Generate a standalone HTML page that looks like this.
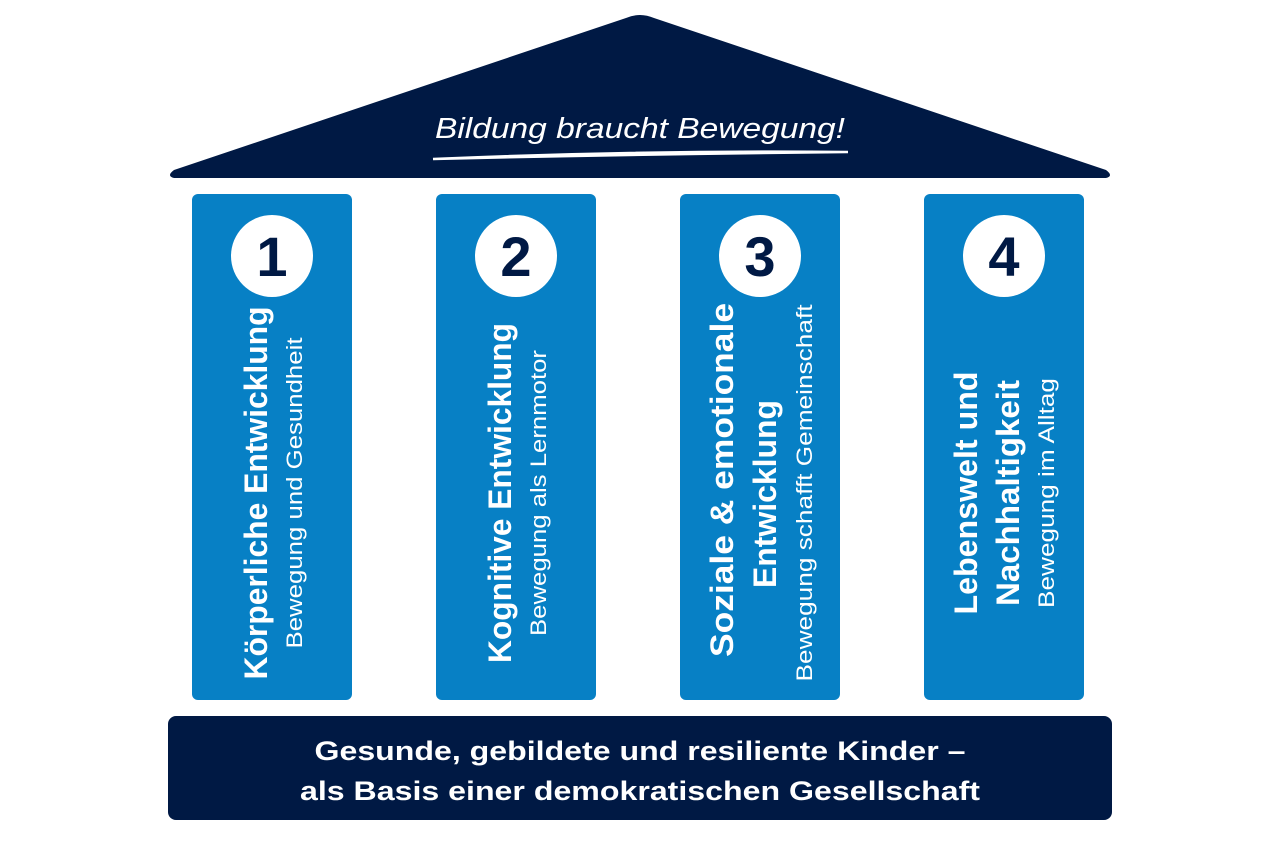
<!DOCTYPE html>
<html><head><meta charset="utf-8"><style>
html,body{margin:0;padding:0;background:#fff;}
svg{display:block;}
text{font-family:"Liberation Sans",sans-serif;}
</style></head><body>
<svg width="1280" height="853" viewBox="0 0 1280 853" xmlns="http://www.w3.org/2000/svg">
<!-- roof -->
<path d="M626,18 Q640,12 654,18 L1106,170 Q1114,176 1106,178 L174,178 Q166,176 174,170 Z" fill="#001944"/>
<text x="435" y="138" fill="#fff" font-size="29" font-style="italic" textLength="410" lengthAdjust="spacingAndGlyphs">Bildung braucht Bewegung!</text>
<path d="M433,159 Q640,150 848,152 Q640,154 433,159 Z" fill="#fff" stroke="#fff" stroke-width="2.5" stroke-linecap="round"/>
<!-- pillars -->
<g fill="#0780c5">
<rect x="192" y="194" width="160" height="506" rx="6"/>
<rect x="436" y="194" width="160" height="506" rx="6"/>
<rect x="680" y="194" width="160" height="506" rx="6"/>
<rect x="924" y="194" width="160" height="506" rx="6"/>
</g>
<g fill="#fff">
<circle cx="272" cy="256" r="41"/><circle cx="516" cy="256" r="41"/>
<circle cx="760" cy="256" r="41"/><circle cx="1004" cy="256" r="41"/>
</g>
<g fill="#001944" font-size="56" font-weight="bold" text-anchor="middle">
<text x="272" y="276">1</text><text x="516" y="276">2</text>
<text x="760" y="276">3</text><text x="1004" y="276">4</text>
</g>
<!-- vertical labels -->
<g fill="#fff" text-anchor="middle">
<g font-weight="bold" font-size="32">
<text transform="translate(267,493) rotate(-90)" textLength="373" lengthAdjust="spacingAndGlyphs">Körperliche Entwicklung</text>
<text transform="translate(511,493) rotate(-90)" textLength="340" lengthAdjust="spacingAndGlyphs">Kognitive Entwicklung</text>
<text transform="translate(733,480) rotate(-90)" textLength="354" lengthAdjust="spacingAndGlyphs">Soziale &amp; emotionale</text>
<text transform="translate(776,494) rotate(-90)" textLength="188" lengthAdjust="spacingAndGlyphs">Entwicklung</text>
<text transform="translate(977,493) rotate(-90)" textLength="243" lengthAdjust="spacingAndGlyphs">Lebenswelt und</text>
<text transform="translate(1019,493) rotate(-90)" textLength="226" lengthAdjust="spacingAndGlyphs">Nachhaltigkeit</text>
</g>
<g font-size="22">
<text transform="translate(302,493) rotate(-90)" textLength="311" lengthAdjust="spacingAndGlyphs">Bewegung und Gesundheit</text>
<text transform="translate(546,493) rotate(-90)" textLength="286" lengthAdjust="spacingAndGlyphs">Bewegung als Lernmotor</text>
<text transform="translate(812,493) rotate(-90)" textLength="377" lengthAdjust="spacingAndGlyphs">Bewegung schafft Gemeinschaft</text>
<text transform="translate(1054,493) rotate(-90)" textLength="230" lengthAdjust="spacingAndGlyphs">Bewegung im Alltag</text>
</g>
</g>
<!-- base -->
<rect x="168" y="716" width="944" height="104" rx="8" fill="#001944"/>
<g fill="#fff" font-size="27" font-weight="bold" text-anchor="middle">
<text x="640" y="760" textLength="651" lengthAdjust="spacingAndGlyphs">Gesunde, gebildete und resiliente Kinder –</text>
<text x="640" y="800" textLength="680" lengthAdjust="spacingAndGlyphs">als Basis einer demokratischen Gesellschaft</text>
</g>
</svg>
</body></html>
